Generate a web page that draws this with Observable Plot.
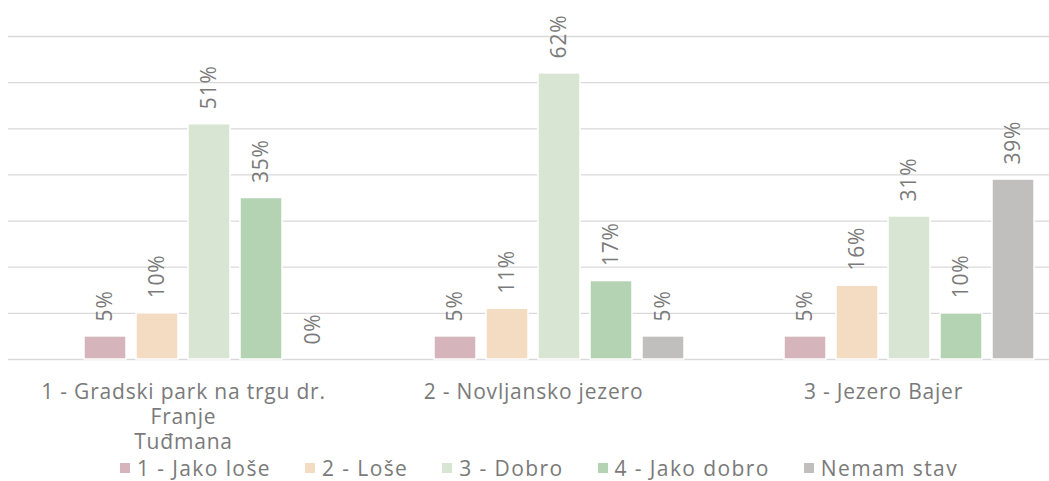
<!DOCTYPE html>
<html>
<head>
<meta charset="utf-8">
<script src="https://cdn.jsdelivr.net/npm/d3@7"></script>
<script src="https://cdn.jsdelivr.net/npm/@observablehq/plot@0.6"></script>
<style>
  html, body { margin: 0; padding: 0; background: #fff; overflow: hidden; width: 1049px; height: 481px; }
  body { font-family: "Open Sans", Lato, sans-serif; position: relative; }
  #chart { width: 1049px; height: 460px; overflow: hidden; }
  #chart svg { max-width: none !important; }
  #legend { position: absolute; left: 0; top: 454px; width: 1078px; display: flex; justify-content: center; gap: 34px; font-size: 21px; letter-spacing: 1.4px; color: #7a7a7a; line-height: 28px; }
  #legend .item { display: flex; align-items: center; white-space: nowrap; }
  #legend .sw { width: 10px; height: 10px; margin-right: 7px; display: inline-block; }
</style>
</head>
<body>
<div id="chart"></div>
<div id="legend"></div>
<script>
const groups = ["1 - Gradski park na trgu dr. Franje Tuđmana", "2 - Novljansko jezero", "3 - Jezero Bajer"];
const groupTickLabels = ["1 - Gradski park na trgu dr.\nFranje\nTuđmana", "2 - Novljansko jezero", "3 - Jezero Bajer"];
const series = ["1 - Jako loše", "2 - Loše", "3 - Dobro", "4 - Jako dobro", "Nemam stav"];
const seriesColors = ["#d5b4bc", "#f4dcc2", "#d9e5d3", "#b4d3b3", "#c0bfbd"];
const jakoLose = [5, 5, 5];
const lose = [10, 11, 16];
const dobro = [51, 62, 31];
const jakoDobro = [35, 17, 10];
const nemamStav = [0, 5, 39];
const gridTicks = [0, 10, 20, 30, 40, 50, 60, 70];

const seriesValues = [jakoLose, lose, dobro, jakoDobro, nemamStav];
const data = [];
groups.forEach((g, gi) => {
  series.forEach((s, si) => {
    data.push({group: g, series: s, value: seriesValues[si][gi]});
  });
});
const tickMap = new Map(groups.map((g, i) => [g, groupTickLabels[i]]));

const textColor = "#7a7a7a";
const chart = Plot.plot({
  width: 1058,
  height: 460,
  marginLeft: 8,
  marginRight: 0,
  marginTop: 36,
  marginBottom: 101,
  style: {fontFamily: '"Open Sans", Lato, sans-serif', background: "transparent", letterSpacing: "0.8px"},
  fx: {domain: groups, padding: 0},
  x: {domain: ["\u200b", ...series], paddingInner: 0.2, paddingOuter: 0.402, axis: null},
  y: {domain: [0, 70], axis: null},
  color: {domain: series, range: seriesColors},
  marks: [
    Plot.ruleY(gridTicks, {stroke: "#d9d9d9", strokeWidth: 1.3}),
    Plot.barY(data, {fx: "group", x: "series", y: "value", fill: "series", stroke: "#fff", strokeWidth: 1.5}),
    Plot.text(data, {fx: "group", x: "series", y: "value", text: d => d.value + "%", rotate: -90, textAnchor: "start", dy: -15, fontSize: 21, fill: textColor}),
    Plot.axisFx({anchor: "bottom", tickSize: 0, tickPadding: 21, tickFormat: d => tickMap.get(d), lineHeight: 1.21, fontSize: 21, fill: textColor, label: null})
  ]
});
document.getElementById("chart").appendChild(chart);

const legend = document.getElementById("legend");
series.forEach((s, i) => {
  const item = document.createElement("div");
  item.className = "item";
  const sw = document.createElement("span");
  sw.className = "sw";
  sw.style.background = seriesColors[i];
  const t = document.createElement("span");
  t.textContent = s;
  item.appendChild(sw);
  item.appendChild(t);
  legend.appendChild(item);
});
</script>
</body>
</html>
